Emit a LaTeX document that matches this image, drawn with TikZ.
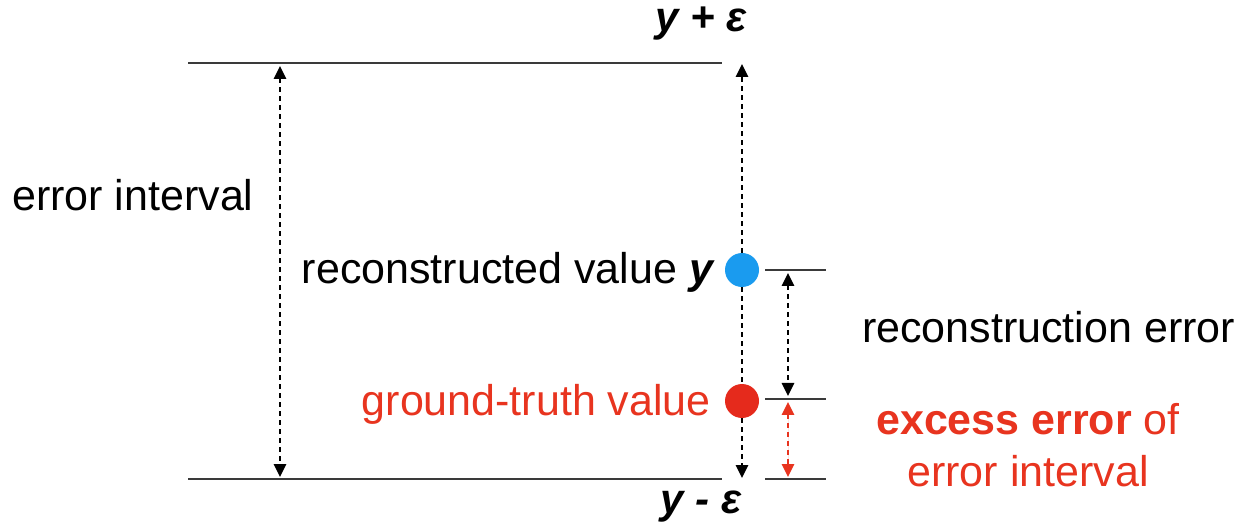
\documentclass[tikz,border=0pt]{standalone}
\usepackage{fontspec}
\setmainfont{Liberation Sans}
\usetikzlibrary{arrows.meta}
\definecolor{dotblue}{HTML}{1A9BEF}
\definecolor{dotred}{HTML}{E52A1C}
\definecolor{txtred}{HTML}{E8341F}
\definecolor{linegray}{HTML}{3A3A3A}
\begin{document}
\begin{tikzpicture}[x=1pt,y=-1pt,
  lvl/.style={draw=linegray,line width=2pt},
  dsh/.style={line width=2.8pt,dash pattern=on 5pt off 4pt},
  dimarrow/.style={dsh,{Triangle[length=13pt,width=12pt]}-{Triangle[length=13pt,width=12pt]}},
  downarrow/.style={dsh,-{Triangle[length=13pt,width=12pt]}},
  uparrow/.style={dsh,-{Triangle[length=13pt,width=12pt]}},
  lbl/.style={font=\fontsize{43}{50}\selectfont,inner sep=0pt},
  dot/.style={circle,minimum size=34pt,inner sep=0pt}]
\useasboundingbox (0,0) rectangle (1245,526);
% levels
\coordinate (tl) at (188,63); \coordinate (tr) at (722,63);
\coordinate (bl) at (188,479); \coordinate (br) at (722,479);
\draw[lvl] (tl) -- (tr);
\draw[lvl] (bl) -- (br);
\coordinate (r1a) at (765,270); \coordinate (r1b) at (826,270);
\coordinate (r2a) at (765,399); \coordinate (r2b) at (826,399);
\coordinate (r3a) at (765,479); \coordinate (r3b) at (826,479);
\draw[lvl] (r1a) -- (r1b);
\draw[lvl] (r2a) -- (r2b);
\draw[lvl] (r3a) -- (r3b);
% left interval arrow
\coordinate (la) at (280,66); \coordinate (lb) at (280,477);
\draw[dimarrow] (la) -- (lb);
% dots
\node[dot,fill=dotblue] (yv) at (742,270) {};
\node[dot,fill=dotred] (gt) at (742,401) {};
% central arrows
\coordinate (ctop) at (742,64); \coordinate (cbot) at (742,478);
\draw[uparrow] (yv) -- (ctop);
\draw[dsh] (yv) -- (gt);
\draw[downarrow] (gt) -- (cbot);
% right arrows
\coordinate (ea) at (788,273); \coordinate (eb) at (788,396);
\draw[dimarrow] (ea) -- (eb);
\coordinate (xa) at (788,402); \coordinate (xb) at (788,477);
\draw[dimarrow,draw=txtred,fill=txtred] (xa) -- (xb);
% labels
\node[lbl,font=\fontsize{42}{48}\selectfont\bfseries\itshape] (ype) at (701,24) {y + ε};
\node[lbl,font=\fontsize{42}{48}\selectfont\bfseries\itshape] (yme) at (701,507) {y - ε};
\node[lbl,anchor=west] (ei) at (12,195) {error interval};
\node[lbl,anchor=east] (rv) at (715,272) {reconstructed value \textbf{\textit{y}}};
\node[lbl,anchor=west] (re) at (862,327) {reconstruction error};
\node[lbl,anchor=east,text=txtred] (gtv) at (711,404) {ground-truth value};
\node[lbl,text=txtred,align=center] (ee) at (1028,445) {\textbf{excess error} of\\[2pt] error interval};
\end{tikzpicture}
\end{document}
